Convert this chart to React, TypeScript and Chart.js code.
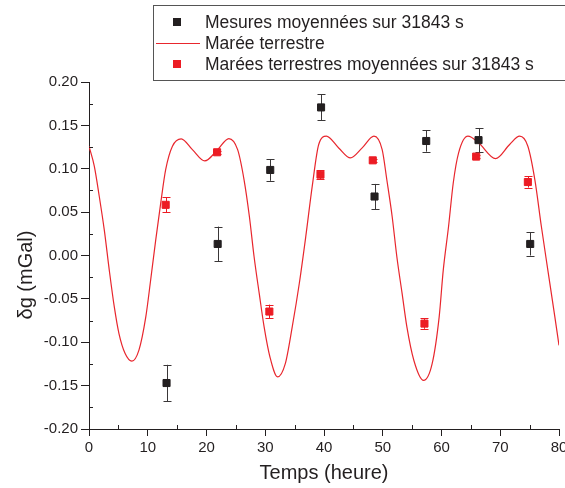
import { useEffect, useRef } from "react";
import { Chart, registerables } from "chart.js";

Chart.register(...registerables);

// Courbe "Marée terrestre"
const curveX = [0, 0.9, 1.75, 2.6, 3.45, 4.3, 5.1, 6.15, 7.3, 8.5, 9.66, 10.5, 11.36, 12.2, 13.05, 14.2, 15.7, 17.6, 19.7, 21.9, 23.8, 25.3, 26.4, 27.3, 28.1, 28.98, 29.8, 30.8, 32.1, 33.4, 34.6, 35.8, 36.9, 38.0, 39.1, 40.4, 42.5, 44.5, 46.5, 48.5, 49.9, 50.7, 51.6, 52.4, 53.3, 54.1, 55.3, 56.95, 58.4, 59.6, 60.3, 61.2, 62.0, 62.9, 64.5, 66.3, 69.2, 71.6, 73.3, 74.7, 75.9, 77.0, 78.1, 79.3, 80];
const curveY = [0.126, 0.103, 0.068, 0.0295, -0.0168, -0.059, -0.09, -0.113, -0.1217, -0.109, -0.071, -0.028, 0.018, 0.06, 0.099, 0.126, 0.1345, 0.122, 0.109, 0.122, 0.1348, 0.122, 0.087, 0.045, -0.0014, -0.044, -0.082, -0.117, -0.14, -0.125, -0.082, -0.032, 0.022, 0.08, 0.128, 0.1375, 0.124, 0.1125, 0.124, 0.1375, 0.122, 0.087, 0.045, -0.0014, -0.044, -0.082, -0.121, -0.144, -0.125, -0.071, -0.0168, 0.0334, 0.0836, 0.118, 0.1375, 0.13, 0.1117, 0.128, 0.1375, 0.126, 0.087, 0.0334, -0.0168, -0.071, -0.1036];

// Mesures moyennées sur 31843 s
const mesX = [13.2, 21.9, 30.85, 39.5, 48.6, 57.4, 66.3, 75.1];
const mesY = [-0.147, 0.0133, 0.0986, 0.1707, 0.068, 0.132, 0.133, 0.0133];
const mesErr = [0.021, 0.02, 0.0125, 0.015, 0.0145, 0.0123, 0.014, 0.0133];

// Marées terrestres moyennées sur 31843 s
const mareeX = [13.05, 21.8, 30.7, 39.4, 48.3, 57.1, 65.9, 74.7];
const mareeY = [0.0584, 0.119, -0.0646, 0.0932, 0.1097, -0.0785, 0.114, 0.0847];
const mareeErr = [0.0085, 0.002, 0.008, 0.005, 0.002, 0.006, 0.002, 0.0064];

const legendLabels = [
  "Mesures moyennées sur 31843 s",
  "Marée terrestre",
  "Marées terrestres moyennées sur 31843 s",
];
const xTitle = "Temps (heure)";
const yTitle = "δg (mGal)";

const BLACK = "#231f20";
const RED = "#ec1c24";
const CURVE = "#e8262d";
const AXIS = "#231f20";
const FONT = "'Liberation Sans', Arial, sans-serif";

export default function App() {
  const ref = useRef<HTMLCanvasElement | null>(null);

  useEffect(() => {
    const canvas = ref.current;
    if (!canvas) return;

    const errorBars = {
      id: "errorBars",
      beforeDatasetsDraw(chart: any) {
        const ctx = chart.ctx;
        const xs = chart.scales.x;
        const ys = chart.scales.y;
        const sets = [
          { x: mesX, y: mesY, e: mesErr, c: "#3a3738" },
          { x: mareeX, y: mareeY, e: mareeErr, c: RED },
        ];
        ctx.save();
        ctx.lineWidth = 1;
        for (const s of sets) {
          ctx.strokeStyle = s.c;
          for (let i = 0; i < s.x.length; i++) {
            const px = Math.round(xs.getPixelForValue(s.x[i])) + 0.5;
            const y1 = ys.getPixelForValue(s.y[i] + s.e[i]);
            const y2 = ys.getPixelForValue(s.y[i] - s.e[i]);
            ctx.beginPath();
            ctx.moveTo(px, y1);
            ctx.lineTo(px, y2);
            ctx.moveTo(px - 4, Math.round(y1) + 0.5);
            ctx.lineTo(px + 4, Math.round(y1) + 0.5);
            ctx.moveTo(px - 4, Math.round(y2) + 0.5);
            ctx.lineTo(px + 4, Math.round(y2) + 0.5);
            ctx.stroke();
          }
        }
        ctx.restore();
      },
    };

    const decorations = {
      id: "decorations",
      afterDraw(chart: any) {
        const ctx = chart.ctx;
        const xs = chart.scales.x;
        const ys = chart.scales.y;
        const area = chart.chartArea;
        ctx.save();
        // minor ticks (inward)
        ctx.strokeStyle = AXIS;
        ctx.lineWidth = 1;
        ctx.beginPath();
        for (let v = -0.175; v < 0.2; v += 0.05) {
          const py = Math.round(ys.getPixelForValue(v)) + 0.5;
          ctx.moveTo(area.left, py);
          ctx.lineTo(area.left + 4, py);
        }
        for (let v = 5; v < 80; v += 10) {
          const px = Math.round(xs.getPixelForValue(v)) + 0.5;
          ctx.moveTo(px, area.bottom);
          ctx.lineTo(px, area.bottom - 4);
        }
        ctx.stroke();

        // axis titles
        ctx.fillStyle = BLACK;
        ctx.font = `20px ${FONT}`;
        ctx.textAlign = "center";
        ctx.textBaseline = "middle";
        ctx.fillText(xTitle, (area.left + area.right) / 2, 473);
        ctx.save();
        ctx.translate(26, 275);
        ctx.rotate(-Math.PI / 2);
        ctx.fillText(yTitle, 0, 0);
        ctx.restore();

        // legend box
        ctx.strokeStyle = "#555";
        ctx.lineWidth = 1;
        ctx.strokeRect(153.5, 5.5, 430, 75);
        ctx.font = `17.5px ${FONT}`;
        ctx.textAlign = "left";
        ctx.textBaseline = "middle";
        const rows = [22, 43, 64];
        // row 1: black square
        ctx.fillStyle = BLACK;
        ctx.fillRect(173, rows[0] - 4, 8, 8);
        // row 2: red line
        ctx.strokeStyle = CURVE;
        ctx.lineWidth = 1.2;
        ctx.beginPath();
        ctx.moveTo(156, rows[1] + 0.5);
        ctx.lineTo(200, rows[1] + 0.5);
        ctx.stroke();
        // row 3: red square
        ctx.fillStyle = RED;
        ctx.fillRect(173, rows[2] - 4, 8, 8);
        ctx.fillStyle = BLACK;
        for (let i = 0; i < legendLabels.length; i++) {
          ctx.fillText(legendLabels[i], 205, rows[i] + 1);
        }
        ctx.restore();
      },
    };

    const chart = new Chart(canvas, {
      type: "scatter",
      data: {
        datasets: [
          {
            label: legendLabels[0],
            data: mesX.map((x, i) => ({ x, y: mesY[i] })),
            pointStyle: "rect",
            pointRadius: 5,
            backgroundColor: BLACK,
            borderColor: BLACK,
            borderWidth: 1,
            showLine: false,
            order: 1,
          },
          {
            label: legendLabels[1],
            data: curveX.map((x, i) => ({ x, y: curveY[i] })),
            showLine: true,
            pointRadius: 0,
            borderColor: CURVE,
            borderWidth: 1.2,
            cubicInterpolationMode: "monotone",
            fill: false,
            order: 3,
          },
          {
            label: legendLabels[2],
            data: mareeX.map((x, i) => ({ x, y: mareeY[i] })),
            pointStyle: "rect",
            pointRadius: 5,
            backgroundColor: RED,
            borderColor: RED,
            borderWidth: 1,
            showLine: false,
            order: 2,
          },
        ],
      },
      options: {
        responsive: false,
        animation: false,
        layout: { padding: { top: 82, right: 4, left: 0, bottom: 0 } },
        plugins: {
          legend: { display: false },
          tooltip: { enabled: false },
          title: { display: false },
        },
        scales: {
          x: {
            type: "linear",
            min: 0,
            max: 80,
            ticks: {
              stepSize: 10,
              padding: 3,
              color: BLACK,
              font: { family: FONT, size: 15 },
              maxRotation: 0,
              callback: (v: any) => String(v),
            },
            grid: {
              drawOnChartArea: false,
              drawTicks: true,
              tickLength: 7,
              color: AXIS,
              lineWidth: 1,
            },
            border: { display: true, color: AXIS, width: 1 },
            afterFit: (s: any) => {
              s.height = 59;
              s.paddingLeft = 0;
              s.paddingRight = 0;
            },
          },
          y: {
            type: "linear",
            min: -0.2,
            max: 0.2,
            ticks: {
              stepSize: 0.05,
              padding: 3,
              color: BLACK,
              font: { family: FONT, size: 15 },
              callback: (v: any) => Number(v).toFixed(2),
            },
            grid: {
              drawOnChartArea: false,
              drawTicks: true,
              tickLength: 8,
              color: AXIS,
              lineWidth: 1,
            },
            border: { display: true, color: AXIS, width: 1 },
            afterFit: (s: any) => {
              s.width = 89;
              s.paddingTop = 0;
              s.paddingBottom = 0;
            },
          },
        },
      },
      plugins: [errorBars, decorations],
    } as any);

    return () => chart.destroy();
  }, []);

  return (
    <div style={{ position: "absolute", left: 0, top: 0, width: 565, height: 488, background: "#fff" }}>
      <canvas ref={ref} width={565} height={488} style={{ display: "block" }} />
    </div>
  );
}
